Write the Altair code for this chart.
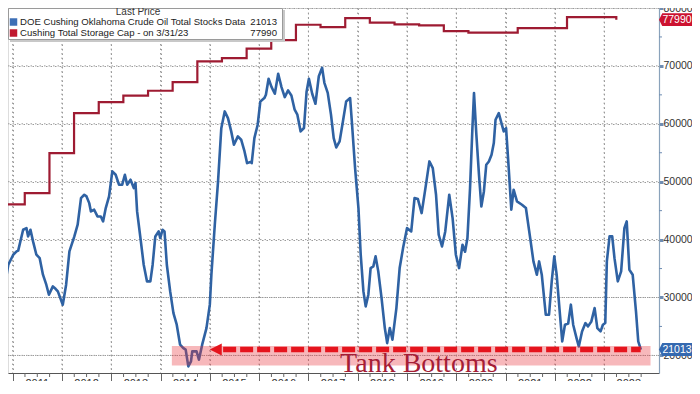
import altair as alt
import pandas as pd

# ---------------- data ----------------
stock_year = [2010.745, 2010.845, 2010.912, 2011.012, 2011.080, 2011.113, 2011.213, 2011.281, 2011.314, 2011.362,
              2011.414, 2011.482, 2011.549, 2011.615, 2011.683, 2011.736, 2011.816, 2011.870, 2011.917, 2012.017,
              2012.085, 2012.152, 2012.252, 2012.319, 2012.387, 2012.453, 2012.499, 2012.554, 2012.588, 2012.654,
              2012.721, 2012.789, 2012.835, 2012.889, 2012.956, 2013.022, 2013.090, 2013.157, 2013.223, 2013.277,
              2013.324, 2013.392, 2013.458, 2013.492, 2013.525, 2013.593, 2013.659, 2013.726, 2013.794, 2013.840,
              2013.894, 2013.961, 2013.995, 2014.041, 2014.081, 2014.128, 2014.196, 2014.262, 2014.329, 2014.397,
              2014.463, 2014.510, 2014.564, 2014.618, 2014.644, 2014.731, 2014.779, 2014.845, 2014.932, 2015.000,
              2015.032, 2015.101, 2015.167, 2015.233, 2015.302, 2015.368, 2015.434, 2015.489, 2015.569, 2015.636,
              2015.704, 2015.756, 2015.824, 2015.850, 2015.904, 2015.971, 2016.025, 2016.106, 2016.138, 2016.192,
              2016.253, 2016.319, 2016.387, 2016.454, 2016.520, 2016.588, 2016.655, 2016.721, 2016.776, 2016.842,
              2016.910, 2016.962, 2017.010, 2017.077, 2017.143, 2017.211, 2017.278, 2017.324, 2017.392, 2017.458,
              2017.513, 2017.565, 2017.633, 2017.700, 2017.766, 2017.846, 2017.881, 2017.947, 2018.015, 2018.061,
              2018.116, 2018.162, 2018.216, 2018.262, 2018.317, 2018.363, 2018.417, 2018.484, 2018.550, 2018.598,
              2018.651, 2018.705, 2018.785, 2018.851, 2018.920, 2019.000, 2019.086, 2019.153, 2019.221, 2019.297,
              2019.374, 2019.454, 2019.523, 2019.589, 2019.643, 2019.710, 2019.776, 2019.857, 2019.925, 2019.991,
              2020.057, 2020.126, 2020.178, 2020.226, 2020.279, 2020.327, 2020.359, 2020.407, 2020.460, 2020.508,
              2020.560, 2020.608, 2020.661, 2020.715, 2020.761, 2020.796, 2020.862, 2020.916, 2020.962, 2021.010,
              2021.063, 2021.116, 2021.163, 2021.231, 2021.332, 2021.412, 2021.499, 2021.565, 2021.634, 2021.680,
              2021.734, 2021.815, 2021.881, 2021.936, 2021.988, 2022.036, 2022.103, 2022.149, 2022.204, 2022.270,
              2022.324, 2022.371, 2022.439, 2022.485, 2022.551, 2022.620, 2022.672, 2022.740, 2022.806, 2022.861,
              2022.927, 2022.974, 2023.022, 2023.054, 2023.109, 2023.163, 2023.209, 2023.276, 2023.344, 2023.410,
              2023.457, 2023.511, 2023.578, 2023.645, 2023.691, 2023.745]
stock_value = [35080, 32210, 35660, 37390, 37960, 38100, 41700, 41980, 40550, 41700,
               39690, 37390, 36800, 33940, 32210, 30480, 31920, 31500, 31050, 28760,
               32210, 37960, 40550, 42570, 47170, 47750, 47460, 46300, 44870, 45160,
               44000, 44000, 43140, 45440, 47460, 51780, 51200, 49480, 49480, 51200,
               49480, 50340, 48900, 49760, 44870, 40260, 35660, 32780, 32780, 35660,
               40550, 41410, 40260, 41700, 41410, 35660, 31050, 27310, 25300, 21850,
               21260, 21000, 18100, 18960, 20690, 20690, 19260, 21850, 24720, 28760,
               33940, 42570, 50050, 59250, 62140, 60980, 58690, 56390, 57820, 57250,
               55230, 53210, 53400, 53210, 57530, 59840, 63870, 64440, 65020, 67780,
               66340, 65190, 68650, 66340, 64610, 65760, 64900, 62440, 61580, 58690,
               59270, 65480, 67780, 65190, 63460, 68210, 69670, 67080, 65350, 61580,
               57530, 55920, 56960, 60410, 63870, 64440, 60410, 52350, 45440, 37390,
               31050, 28460, 30480, 35080, 35370, 37100, 34510, 29900, 24720, 22120,
               24720, 22710, 28170, 35080, 38530, 41980, 41410, 47170, 47000, 44580,
               48890, 53500, 52350, 47750, 40840, 38820, 41410, 47750, 43710, 37390,
               35080, 39120, 37900, 40260, 48890, 59250, 65330, 58120, 51210, 45730,
               48320, 52930, 53500, 54650, 56670, 60700, 61840, 60110, 58680, 59250,
               52350, 45160, 48620, 46600, 46020, 45450, 40260, 36230, 33940, 36230,
               33940, 27030, 27030, 32780, 37100, 33940, 27030, 22420, 25300, 25500,
               28760, 25300, 22990, 21550, 24140, 25580, 25010, 25870, 28170, 24720,
               24140, 25300, 25600, 36230, 40550, 40550, 36800, 32780, 34510, 41980,
               43140, 34800, 33940, 27600, 22420, 21013]

cap_year = [2010.745, 2011.246, 2011.747, 2012.246, 2012.747, 2013.246, 2013.747, 2014.246, 2014.747,
            2015.246, 2015.747, 2016.246, 2016.747, 2017.246, 2017.747, 2018.246, 2018.747, 2019.246,
            2019.747, 2020.246, 2020.747, 2021.246, 2021.747, 2022.246, 2022.747, 2023.246]
cap_value = [46100, 48030, 54940, 61850, 63740, 64850, 65710, 67200, 70770,
             71340, 72970, 74450, 77110, 76700, 78250, 77460, 77160, 76990,
             76010, 75730, 75730, 76530, 76530, 78430, 78430, 77990]

year_ticks = [2011.0, 2012.0, 2013.0, 2014.0, 2015.0, 2016.0, 2017.0, 2018.0, 2019.0, 2020.0,
              2021.0, 2022.0, 2023.0]
year_labels = ["2011", "2012", "2013", "2014", "2015", "2016", "2017", "2018", "2019", "2020",
               "2021", "2022", "2023"]
quarter_ticks = [y + q for y in range(2010, 2024) for q in (0.25, 0.5, 0.75)]
y_ticks = [20000.0, 30000.0, 40000.0, 50000.0, 60000.0, 70000.0, 80000.0]
y_minor = [25000.0, 35000.0, 45000.0, 55000.0, 65000.0, 75000.0]

stock_name = "DOE Cushing Oklahoma Crude Oil Total Stocks Data"
cap_name = "Cushing Total Storage Cap -  on 3/31/23"
legend_title = "Last Price"
last_stock = 21013
last_cap = 77990

band_x = [2014.23, 2023.94]
band_y = [18270, 21620]
arrow_x = [2015.27, 2023.74]
arrow_tip = 2015.12
annotation = "Tank Bottoms"
annotation_x = 2019.24

# ---------------- layout / style ----------------
W, H = 651, 365
X0, X1 = 2010.906, 2024.112
Y0, Y1 = 16960, 80000
xs = alt.Scale(domain=[X0, X1], nice=False, zero=False)
ys = alt.Scale(domain=[Y0, Y1], nice=False, zero=False)
BLUE = "#2f62a3"
DARKRED = "#9e1b32"
RED = "#e5141d"
GRID = "#9a9a9a"
DASH = [1.5, 3]
FONT = "Liberation Sans"

stock_df = pd.DataFrame({"year": stock_year, "value": stock_value})
cap_df = pd.DataFrame({"year": cap_year, "value": cap_value})
one = pd.DataFrame({"a": [0]})

xaxis = alt.Axis(values=year_ticks, labels=False, title=None, grid=True, gridColor=GRID,
                 gridDash=DASH, gridWidth=1, gridOpacity=1, tickSize=16,
                 tickColor="#666", tickWidth=1, domainColor="#555", domainWidth=1)
yaxis = alt.Axis(orient="right", values=y_ticks, format="d", title=None, grid=True, gridColor=GRID,
                 gridDash=DASH, gridWidth=1, gridOpacity=1,
                 tickSize=4, tickWidth=3, tickColor="#6f8db3",
                 domainColor="#8aa2bb", domainWidth=1.2, labelFontSize=10.5, labelColor="#333",
                 labelPadding=0, labelFont=FONT)


def X(field):
    return alt.X(field, scale=xs, axis=xaxis)


def Y(field):
    return alt.Y(field, scale=ys, axis=yaxis)


# grid as explicit dotted rules too (built from the tick lists through the scales)
grid_src = pd.DataFrame({"year": quarter_ticks + year_ticks})
vgrid = alt.Chart(grid_src).transform_filter(
    "floor(datum.year) == datum.year && datum.year > 2010.906").mark_rule(
    color=GRID, strokeWidth=1, strokeDash=DASH).encode(
    x=X("year:Q"), y=alt.value(0), y2=alt.value(H))
hgrid = alt.Chart(pd.DataFrame({"value": y_minor + y_ticks})).transform_filter(
    "datum.value % 10000 == 0").mark_rule(
    color=GRID, strokeWidth=1, strokeDash=DASH).encode(
    y=Y("value:Q"), x=alt.value(0), x2=alt.value(W))

cap_line = alt.Chart(cap_df).mark_line(interpolate="step-after", color=DARKRED, strokeWidth=2.2,
                                       clip=True).encode(x=X("year:Q"), y=Y("value:Q"))

stock_line = alt.Chart(stock_df).mark_line(color=BLUE, strokeWidth=2.6, clip=True,
                                           strokeJoin="round").encode(x=X("year:Q"), y=Y("value:Q"))

band_df = pd.DataFrame({"year": [band_x[0]], "x2": [band_x[1]], "value": [band_y[0]], "y2": [band_y[1]]})
band = alt.Chart(band_df).mark_rect(color="#e8333c", opacity=0.35).encode(
    x=X("year:Q"), x2="x2:Q", y=Y("value:Q"), y2="y2:Q")

dash_df = pd.DataFrame({"year": [arrow_x[0]], "x2": [arrow_x[1]], "value": [last_stock]})
dash = alt.Chart(dash_df).mark_rule(color=RED, strokeWidth=5.5, strokeDash=[13, 4]).encode(
    x=X("year:Q"), x2="x2:Q", y=Y("value:Q"))

head_df = pd.DataFrame({"year": [arrow_tip], "value": [last_stock]})
head = alt.Chart(head_df).mark_point(shape="M-1,0L1,-1L1,1Z", filled=True, size=144, color=RED,
                                     opacity=1).encode(x=X("year:Q"), y=Y("value:Q"))

tank_df = pd.DataFrame({"year": [annotation_x], "t": [annotation]})
tank = alt.Chart(tank_df).mark_text(font="Liberation Serif", fontSize=28, color="#a51d36",
                                    align="center", baseline="alphabetic").encode(
    x=X("year:Q"), y=alt.value(H - 1), text="t:N")

ylab_df = pd.DataFrame({"label": year_labels, "year": [y + 0.5 for y in year_ticks]})
ylabels = alt.Chart(ylab_df).mark_text(
    fontSize=11, color="#333", baseline="top", align="center", font=FONT).encode(
    x=X("year:Q"), y=alt.value(H + 5), text="label:N")

q_df = pd.DataFrame({"year": quarter_ticks})
qticks = alt.Chart(q_df).transform_filter(
    "datum.year > 2010.906 && datum.year < 2024.1").mark_rule(color="#666", strokeWidth=1).encode(
    x=X("year:Q"), y=alt.value(H), y2=alt.value(H + 4))

ym_df = pd.DataFrame({"value": y_minor})
yminor = alt.Chart(ym_df).mark_rule(color="#6f8db3", strokeWidth=1).encode(
    y=Y("value:Q"), x=alt.value(W), x2=alt.value(W + 3))

TAG = "M-1,0L-0.82,-0.36L1,-0.36L1,0.36L-0.82,0.36Z"
tag_df = pd.DataFrame({"value": [last_cap, last_stock], "t": [str(last_cap), str(last_stock)],
                       "c": ["#cc1230", "#3569b0"]})
tags = alt.Chart(tag_df).mark_point(shape=TAG, filled=True, size=1296, opacity=1).encode(
    x=alt.value(W + 18), y=Y("value:Q"), color=alt.Color("c:N", scale=None))
tag_text = alt.Chart(tag_df).mark_text(color="white", fontSize=10.5, font=FONT, align="center",
                                       baseline="middle").encode(
    x=alt.value(W + 18), y=Y("value:Q"), text="t:N")

# legend box (annotation in pixel space)
shadow = alt.Chart(one).mark_rect(color="#c8c8c8").encode(
    x=alt.value(2), x2=alt.value(277), y=alt.value(2), y2=alt.value(34))
box = alt.Chart(one).mark_rect(fill="white", stroke="#9a9a9a", strokeWidth=1).encode(
    x=alt.value(0.5), x2=alt.value(274.5), y=alt.value(0.5), y2=alt.value(31.5))
legend_rows = pd.DataFrame({
    "name": [legend_title, stock_name, cap_name],
    "val": ["", str(last_stock), str(last_cap)],
    "col": ["#ffffff", "#3d6fb6", "#c0182f"],
    "row": [0, 1, 2],
})
ROW_Y = {0: 4, 1: 14, 2: 25}
legend_layers = [shadow, box]
legend_layers.append(alt.Chart(legend_rows).transform_filter("datum.row == 0").mark_text(
    fontSize=10, color="#333", font=FONT, align="center", baseline="middle").encode(
    x=alt.value(130), y=alt.value(ROW_Y[0]), text="name:N"))
for r in (1, 2):
    sub = alt.Chart(legend_rows).transform_filter(f"datum.row == {r}")
    legend_layers.append(sub.mark_square(size=56, opacity=1).encode(
        x=alt.value(5.5), y=alt.value(ROW_Y[r]), color=alt.Color("col:N", scale=None)))
    legend_layers.append(sub.mark_text(fontSize=9.6, color="#222", font=FONT, align="left",
                                       baseline="middle").encode(
        x=alt.value(12), y=alt.value(ROW_Y[r]), text="name:N"))
    legend_layers.append(sub.mark_text(fontSize=9.6, color="#222", font=FONT, align="right",
                                       baseline="middle").encode(
        x=alt.value(269), y=alt.value(ROW_Y[r]), text="val:N"))

chart = alt.layer(
    vgrid, hgrid, cap_line, stock_line, band, dash, head, tank, ylabels, qticks, yminor,
    tags, tag_text, *legend_layers
).properties(
    width=W, height=H,
    padding={"left": 0, "top": 0, "right": 33, "bottom": 8},
    autosize=alt.AutoSizeParams(type="none"),
).configure_view(stroke=None).configure(font=FONT, background="white")

chart.save("out.html", embed_options={"renderer": "svg", "actions": False})
